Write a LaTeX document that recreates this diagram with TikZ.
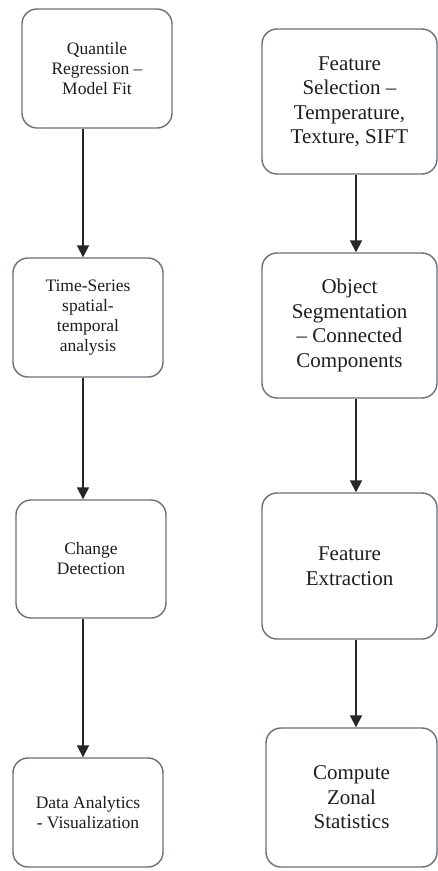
\documentclass[tikz,border=0pt]{standalone}
\usepackage{fontspec}
\setmainfont{Liberation Serif}
\usetikzlibrary{arrows.meta}
\definecolor{boxline}{RGB}{105,112,122}
\definecolor{txt}{RGB}{30,30,30}
\tikzset{
  boxnode/.style={draw=boxline, line width=1.4pt, rounded corners=15pt, rectangle, inner sep=0pt, align=center, text=txt, fill=white},
  leftbox/.style={boxnode, font=\fontsize{17.5}{20}\selectfont},
  rightbox/.style={boxnode, font=\fontsize{21}{24.5}\selectfont},
  arr/.style={draw=black!85, line width=1.8pt, -{Triangle[width=12pt,length=12pt]}}
}
\begin{document}
\begin{tikzpicture}[x=1pt,y=-1pt]
\useasboundingbox (0,0) rectangle (438,871);
\fill[white] (0,0) rectangle (438,871);
% left column
\node[leftbox, minimum width=150pt, minimum height=119pt] (q) at (97,68.5) {Quantile\\Regression --\\Model Fit};
\node[leftbox, minimum width=150pt, minimum height=119pt] (t) at (88,317.5) {Time-Series\\spatial-\\temporal\\analysis};
\node[leftbox, minimum width=150pt, minimum height=118pt] (c) at (91,559) {Change\\Detection};
\node[leftbox, minimum width=150pt, minimum height=109pt] (d) at (88,812.5) {Data Analytics\\- Visualization};
% right column
\node[rightbox, minimum width=175pt, minimum height=145pt] (fs) at (349.5,101.5) {Feature\\Selection --\\Temperature,\\Texture, SIFT};
\node[rightbox, minimum width=175pt, minimum height=145pt] (os) at (349.5,325.5) {Object\\Segmentation\\-- Connected\\Components};
\node[rightbox, minimum width=175pt, minimum height=146pt] (fe) at (349.5,566) {Feature\\Extraction};
\node[rightbox, minimum width=171pt, minimum height=139pt] (cz) at (351.5,797.5) {Compute\\Zonal\\Statistics};
% arrow columns
\coordinate (ax) at (83,0);
\coordinate (bx) at (356,0);
\draw[arr] (q.south -| ax) -- (t.north -| ax);
\draw[arr] (t.south -| ax) -- (c.north -| ax);
\draw[arr] (c.south -| ax) -- (d.north -| ax);
\draw[arr] (fs.south -| bx) -- (os.north -| bx);
\draw[arr] (os.south -| bx) -- (fe.north -| bx);
\draw[arr] (fe.south -| bx) -- (cz.north -| bx);
\end{tikzpicture}
\end{document}
